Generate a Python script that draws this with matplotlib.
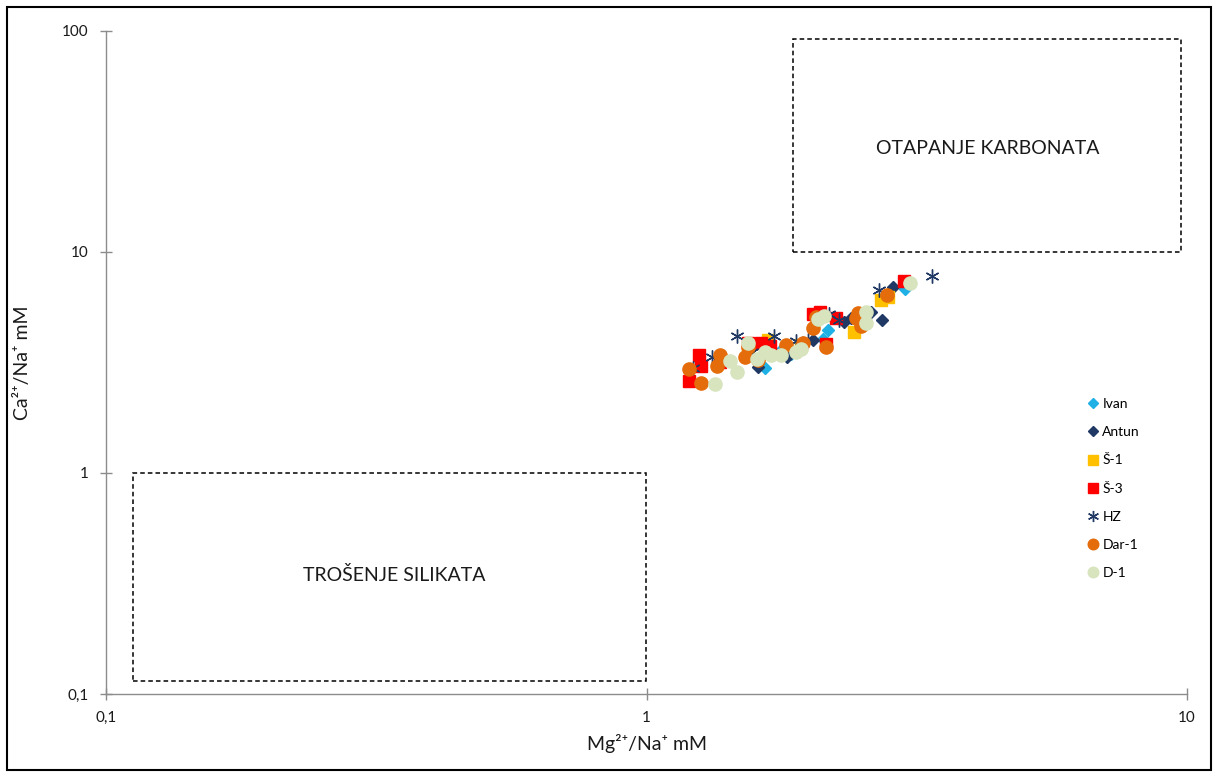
import matplotlib
matplotlib.use("Agg")
import matplotlib.pyplot as plt
from matplotlib.patches import Rectangle
from matplotlib.ticker import FixedLocator, FixedFormatter, NullLocator

plt.rcParams['font.family'] = ['Lato', 'DejaVu Sans']

# ---- data (Mg/Na, Ca/Na in mM) ----
ivan_x = [1.66, 1.85, 2.12, 2.15, 3.01, 1.77, 2.17]
ivan_y = [2.99, 3.46, 4.04, 3.80, 6.80, 3.60, 4.44]

antun_x = [1.61, 1.82, 2.03, 2.32, 2.39, 2.73, 2.86, 2.60]
antun_y = [3.02, 3.35, 4.00, 4.82, 5.03, 4.92, 6.94, 5.35]

s1_x = [2.42, 1.54, 1.93, 2.71, 1.68, 2.80]
s1_y = [4.35, 3.46, 3.80, 6.07, 4.00, 6.26]

s3_x = [1.20, 1.25, 1.26, 1.37, 1.54, 1.63, 1.69, 2.03, 2.15, 2.24, 2.99, 2.09]
s3_y = [2.61, 3.42, 3.05, 3.18, 3.87, 3.87, 3.75, 5.24, 3.83, 5.03, 7.39, 5.35]

hz_x = [1.22, 1.32, 1.47, 1.72, 1.89, 1.99, 2.18, 2.27, 2.69, 3.38, 1.57]
hz_y = [2.99, 3.35, 4.17, 4.17, 3.96, 4.00, 5.24, 4.92, 6.73, 7.79, 3.53]

dar1_x = [1.26, 1.20, 1.35, 1.52, 1.54, 1.61, 1.95, 2.06, 2.03, 2.15, 2.46, 2.44, 2.49, 2.79, 1.37, 1.81]
dar1_y = [2.56, 2.96, 3.05, 3.35, 3.72, 3.25, 3.87, 5.08, 4.53, 3.72, 5.30, 5.03, 4.63, 6.39, 3.42, 3.80]

d1_x = [1.34, 1.43, 1.47, 1.60, 1.66, 1.70, 1.93, 2.13, 2.08, 2.55, 2.55, 3.07, 1.54, 1.89, 1.77]
d1_y = [2.53, 3.21, 2.86, 3.28, 3.53, 3.42, 3.64, 5.13, 4.98, 5.35, 4.77, 7.24, 3.87, 3.53, 3.42]

series = [
    ("Ivan", ivan_x, ivan_y, dict(marker='D', color='#1FB0E6', ms=6.5, ls='none')),
    ("Antun", antun_x, antun_y, dict(marker='D', color='#1F3864', ms=6.5, ls='none')),
    ("Š-1", s1_x, s1_y, dict(marker='s', color='#FFC000', ms=8.5, ls='none')),
    ("Š-3", s3_x, s3_y, dict(marker='s', color='#FF0000', ms=8.5, ls='none')),
    ("HZ", hz_x, hz_y, dict(marker=(6, 2, 0), color='#1F3864', ms=10, mew=1.0, ls='none')),
    ("Dar-1", dar1_x, dar1_y, dict(marker='o', color='#E46C0A', ms=9.5, ls='none')),
    ("D-1", d1_x, d1_y, dict(marker='o', color='#D7E4BD', ms=9.5, ls='none')),
]

# region boxes (data coords): (x0, x1, y0, y1)
carb_box = (1.87, 9.75, 10.0, 92.0)
sil_box = (0.112, 0.998, 0.1145, 1.0)

fig = plt.figure(figsize=(12.15, 7.73), dpi=100)
fig.patches.append(Rectangle((0.006, 0.004), 0.991, 0.987, transform=fig.transFigure,
                             fill=False, edgecolor='black', lw=1.5))
ax = fig.add_axes([0.0872, 0.1022, 0.8898, 0.8577])
ax.set_xscale('log')
ax.set_yscale('log')
ax.set_xlim(0.1, 10)
ax.set_ylim(0.1, 100)

for name, xs, ys, kw in series:
    ax.plot(xs, ys, label=name, **kw)

for (x0, x1, y0, y1) in (carb_box, sil_box):
    ax.add_patch(Rectangle((x0, y0), x1 - x0, y1 - y0, fill=False, edgecolor='black',
                           lw=1.1, linestyle=(0, (3, 2))))

ax.text((carb_box[0] * carb_box[1]) ** 0.5, 10 ** 1.47, "OTAPANJE KARBONATA",
        ha='center', va='center', fontsize=14, color='#1a1a1a')
ax.text((sil_box[0] * sil_box[1]) ** 0.5 * 1.02, 0.345, "TROŠENJE SILIKATA",
        ha='center', va='center', fontsize=14, color='#1a1a1a')

xt = [0.1, 1, 10]
yt = [0.1, 1, 10, 100]
ax.xaxis.set_major_locator(FixedLocator(xt))
ax.xaxis.set_major_formatter(FixedFormatter(["0,1", "1", "10"]))
ax.yaxis.set_major_locator(FixedLocator(yt))
ax.yaxis.set_major_formatter(FixedFormatter(["0,1", "1", "10", "100"]))
ax.xaxis.set_minor_locator(NullLocator())
ax.yaxis.set_minor_locator(NullLocator())

for s in ['top', 'right']:
    ax.spines[s].set_visible(False)
for s in ['left', 'bottom']:
    ax.spines[s].set_color('#8c8c8c')
    ax.spines[s].set_linewidth(1.0)
ax.tick_params(direction='inout', length=9, width=1, color='#8c8c8c',
               labelsize=11, labelcolor='#1a1a1a', pad=8)

lab_font = ['Lato', 'DejaVu Sans']
ax.set_xlabel("Mg²⁺/Na⁺ mM", fontsize=14, color='#1a1a1a', labelpad=6, family=lab_font)
ax.set_ylabel("Ca²⁺/Na⁺ mM", fontsize=14, color='#1a1a1a', labelpad=22, family=lab_font)

ax.legend(loc='upper left', bbox_to_anchor=(0.889, 0.492), bbox_transform=fig.transFigure,
          frameon=False, fontsize=10, handletextpad=0.2, labelspacing=1.16,
          handlelength=1.0, borderaxespad=0, markerscale=0.8)

fig.savefig("out.png", dpi=100)
